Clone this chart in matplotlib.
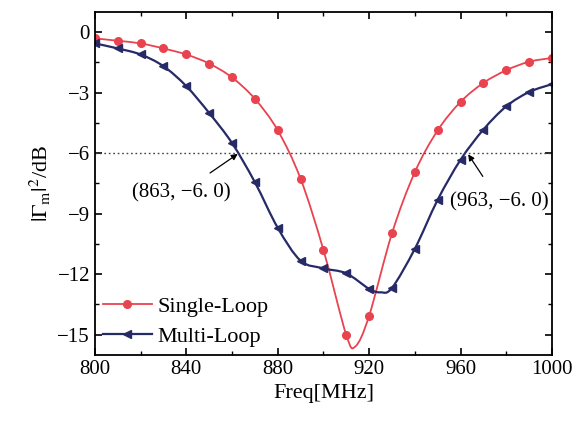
import numpy as np
import matplotlib.pyplot as plt
from matplotlib.ticker import MultipleLocator
from matplotlib.path import Path
from matplotlib.patches import PathPatch
from matplotlib.lines import Line2D

plt.rcParams['font.family'] = ['Liberation Serif', 'DejaVu Serif']
plt.rcParams['mathtext.fontset'] = 'stix'

# Single-Loop: samples every 10 MHz plus the read-off minimum (914 MHz)
freq_single = [800, 810, 820, 830, 840, 850, 860, 870, 880, 890, 900, 910, 914,
               920, 930, 940, 950, 960, 970, 980, 990, 1000]
gain_single = [-0.31, -0.43, -0.56, -0.81, -1.11, -1.56, -2.25, -3.31, -4.87, -7.27,
               -10.8, -15.02, -15.58, -14.06, -9.97, -6.94, -4.87, -3.46, -2.52,
               -1.89, -1.47, -1.28]
# Multi-Loop: samples every 10 MHz plus the minimum near 925 MHz
freq_multi = [800, 810, 820, 830, 840, 850, 860, 870, 880, 890, 900, 910, 920, 925,
              930, 940, 950, 960, 970, 980, 990, 1000]
gain_multi = [-0.56, -0.81, -1.11, -1.69, -2.68, -4.01, -5.5, -7.44, -9.7, -11.33,
              -11.71, -11.96, -12.73, -12.9, -12.68, -10.74, -8.31, -6.33, -4.83,
              -3.68, -2.97, -2.58]

thresh = -6.0
ann_pts = [(863, -6.0), (963, -6.0)]

red = '#e8434f'
navy = '#262a66'


def smooth_path(x, y):
    # Bezier path through the points (Catmull-Rom tangents), like Origin's spline line
    p = np.column_stack([x, y]).astype(float)
    verts = [p[0]]
    codes = [Path.MOVETO]
    n = len(p)
    for i in range(n - 1):
        p0 = p[i - 1] if i > 0 else p[i]
        p3 = p[i + 2] if i + 2 < n else p[i + 1]
        c1 = p[i] + (p[i + 1] - p0) / 6
        c2 = p[i + 1] - (p3 - p[i]) / 6
        verts += [c1, c2, p[i + 1]]
        codes += [Path.CURVE4] * 3
    return Path(verts, codes)


fig = plt.figure(figsize=(5.75, 4.26), dpi=100)
ax = fig.add_axes([0.165, 0.167, 0.795, 0.805])

ax.add_patch(PathPatch(smooth_path(freq_single, gain_single), fill=False,
                       edgecolor=red, lw=1.3))
ax.add_patch(PathPatch(smooth_path(freq_multi, gain_multi), fill=False,
                       edgecolor=navy, lw=1.6))
fs = np.array(freq_single)
fm = np.array(freq_multi)
ks = fs % 10 == 0
km = fm % 10 == 0
ax.plot(fs[ks], np.array(gain_single)[ks], ls='none', marker='o', ms=5.5, color=red)
ax.plot(fm[km], np.array(gain_multi)[km], ls='none', marker='<', ms=6, color=navy)
ax.axhline(thresh, color='#444444', lw=1.0, ls=(0, (1.2, 2.0)))

ax.annotate('(863, \u22126. 0)', xy=ann_pts[0], xytext=(838, -7.95),
            ha='center', va='center', fontsize=15,
            arrowprops=dict(arrowstyle='-|>', color='black', lw=0.9,
                            shrinkA=9, shrinkB=1, mutation_scale=9))
ax.annotate('(963, \u22126. 0)', xy=ann_pts[1], xytext=(977, -8.4),
            ha='center', va='center', fontsize=15,
            arrowprops=dict(arrowstyle='-|>', color='black', lw=0.9,
                            shrinkA=11, shrinkB=1, mutation_scale=9))

ax.set_xlim(800, 1000)
ax.set_ylim(-16, 1)
ax.xaxis.set_major_locator(MultipleLocator(40))
ax.xaxis.set_minor_locator(MultipleLocator(20))
ax.yaxis.set_major_locator(MultipleLocator(3))
ax.yaxis.set_minor_locator(MultipleLocator(1.5))
ax.tick_params(which='both', direction='in', top=True, right=True, labelsize=15)
ax.tick_params(which='major', length=5, width=1.2)
ax.tick_params(which='minor', length=3, width=1.0)
for s in ax.spines.values():
    s.set_linewidth(1.3)

ax.set_xlabel('Freq[MHz]', fontsize=16, labelpad=4)
ax.set_ylabel(r'$|\mathit{\Gamma}_\mathrm{m}|^2$/dB', fontsize=16, labelpad=3)

handles = [Line2D([], [], color=red, lw=1.3, marker='o', ms=5.5),
           Line2D([], [], color=navy, lw=1.6, marker='<', ms=6)]
ax.legend(handles, ['Single-Loop', 'Multi-Loop'], loc='lower left', fontsize=16,
          frameon=False, handlelength=2.2, handletextpad=0.25, labelspacing=0.45,
          borderaxespad=0.2, borderpad=0.15)

fig.savefig('out.png', dpi=100)
